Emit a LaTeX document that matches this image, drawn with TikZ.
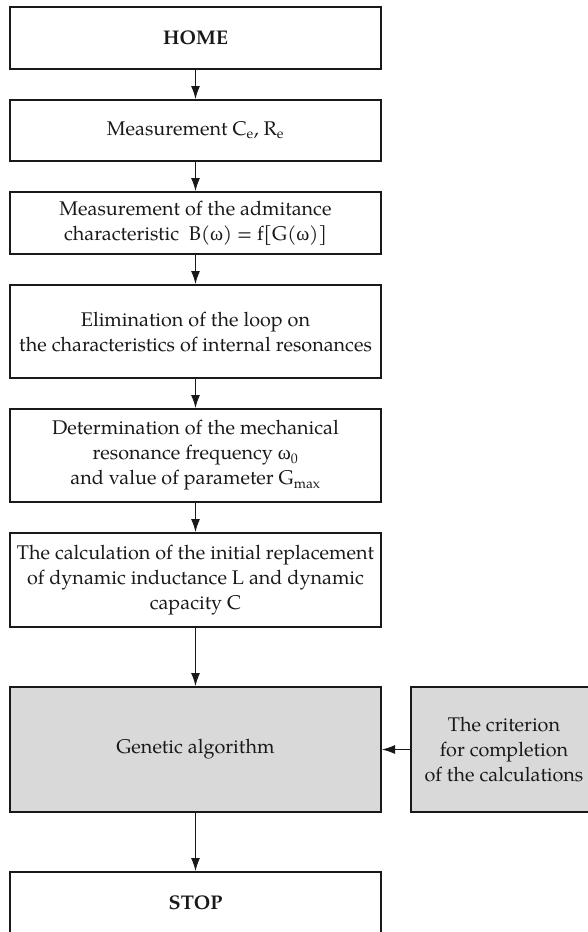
\documentclass[tikz,border=0pt]{standalone}
\usepackage{fontspec}
\setmainfont{TeX Gyre Pagella}
\newfontfamily\grk{Liberation Serif}
\usetikzlibrary{arrows.meta}
\newcommand{\om}{{\grk ω}}
\begin{document}
\begin{tikzpicture}[x=1pt,y=-1pt,
  box/.style={draw=black!90, line width=2pt, minimum width=371pt, align=center, inner sep=0pt,
    font=\fontsize{19.8}{25}\selectfont, text=black!90},
  gbox/.style={box, fill=black!15},
  arr/.style={-{Latex[length=13pt,width=9pt]}, line width=1pt, draw=black!90}]
\useasboundingbox (0,0) rectangle (588,932);
\clip (0,0) rectangle (588,932);
\node[box, minimum height=62pt] (home) at (195.5,38) {\textbf{HOME}};
\node[box, minimum height=61pt] (meas) at (195.5,130.5) {Measurement C\textsubscript{e}, R\textsubscript{e}};
\node[box, minimum height=62pt] (adm) at (195.5,223) {Measurement of the admitance\\characteristic\ \ B(\om) = f[G(\om)]};
\node[box, minimum height=93pt] (elim) at (195.5,331.5) {Elimination of the loop on\\the characteristics of internal resonances};
\node[box, minimum height=93pt] (det) at (195.5,455.5) {Determination of the mechanical\\resonance frequency \om\textsubscript{0}\\and value of parameter G\textsubscript{max}};
\node[box, minimum height=94pt] (calc) at (195.5,580) {The calculation of the initial replacement\\of dynamic inductance L and dynamic\\capacity C};
\node[gbox, minimum height=125pt] (gen) at (195.5,749.5) {Genetic algorithm};
\node[gbox, minimum height=125pt, minimum width=186pt] (crit) at (504,749.5) {The criterion\\for completion\\of the calculations};
\node[box, minimum height=62pt] (stop) at (195.5,903) {\textbf{STOP}};
\draw[arr] (home) -- (meas);
\draw[arr] (meas) -- (adm);
\draw[arr] (adm) -- (elim);
\draw[arr] (elim) -- (det);
\draw[arr] (det) -- (calc);
\draw[arr] (calc) -- (gen);
\draw[arr] (gen) -- (stop);
\draw[arr] (crit) -- (gen);
\end{tikzpicture}
\end{document}
